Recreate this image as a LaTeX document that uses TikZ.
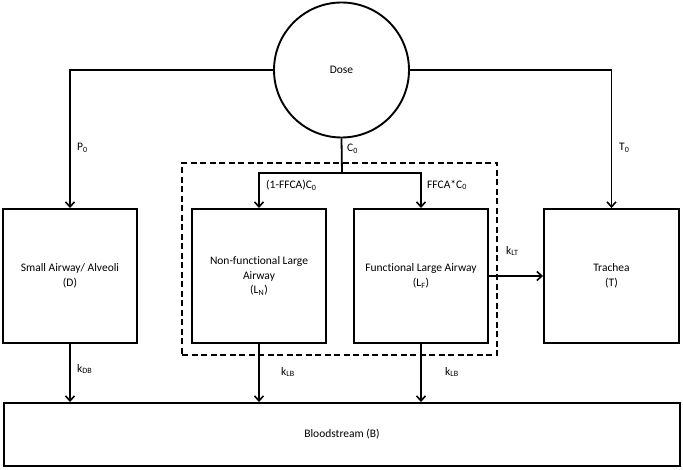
\documentclass[tikz,border=0pt]{standalone}
\usepackage{fontspec}
\setmainfont{Carlito}[Ligatures=NoCommon]
\usetikzlibrary{arrows.meta}
\begin{document}
\begin{tikzpicture}[x=1pt,y=-1pt,
  every node/.style={font=\fontsize{11.5}{14.5}\selectfont},
  box/.style={draw,line width=1.9pt,rectangle,inner sep=0pt,align=center},
  conn/.style={line width=1.8pt},
  arr/.style={conn,-{Straight Barb[length=5pt,width=9pt,line width=1.6pt]}},
  lab/.style={anchor=west,inner sep=0pt},
  grp/.style={draw,line width=1.7pt,dash pattern=on 6pt off 3.5pt}
]
\useasboundingbox (0,0) rectangle (683,470);
\node[draw,circle,line width=1.9pt,minimum size=135pt,inner sep=0pt] (dose) at (341.5,70) {Dose};
\node[box,minimum width=134pt,minimum height=134pt] (D) at (70,276) {Small Airway/ Alveoli\\(D)};
\node[box,minimum width=134pt,minimum height=134pt] (LN) at (259,276) {Non-functional Large\\Airway\\(L\textsubscript{N})};
\node[box,minimum width=134pt,minimum height=134pt] (LF) at (421,276) {Functional Large Airway\\(L\textsubscript{F})};
\node[box,minimum width=135pt,minimum height=134pt] (T) at (611.5,276) {Trachea\\(T)};
\node[box,minimum width=676pt,minimum height=63pt] (B) at (342,434.5) {Bloodstream (B)};
\node[grp,minimum width=315pt,minimum height=192pt,inner sep=0pt] (grp) at (339.5,259) {};
\coordinate (split) at (342,173);
\draw[arr] (dose.west) -| (D.north);
\draw[arr] (dose.east) -| (T.north);
\draw[conn] (dose.south) -- (split);
\draw[arr] (split) -| (LN.north);
\draw[arr] (split) -| (LF.north);
\draw[arr] (LF.east) -- (T.west);
\draw[arr] (D.south) -- (D.south |- B.north);
\draw[arr] (LN.south) -- (LN.south |- B.north);
\draw[arr] (LF.south) -- (LF.south |- B.north);
\node[lab] (p0) at (77,148) {P\textsubscript{0}};
\node[lab] (t0) at (619,148) {T\textsubscript{0}};
\node[lab] (c0) at (347,149) {C\textsubscript{0}};
\node[lab] (c1) at (266,185) {(1-FFCA)C\textsubscript{0}};
\node[lab] (c2) at (427,185) {FFCA*C\textsubscript{0}};
\node[lab] (klt) at (506,251) {k\textsubscript{LT}};
\node[lab] (kdb) at (77,369) {k\textsubscript{DB}};
\node[lab] (klb1) at (281,372) {k\textsubscript{LB}};
\node[lab] (klb2) at (445,372) {k\textsubscript{LB}};
\end{tikzpicture}
\end{document}
